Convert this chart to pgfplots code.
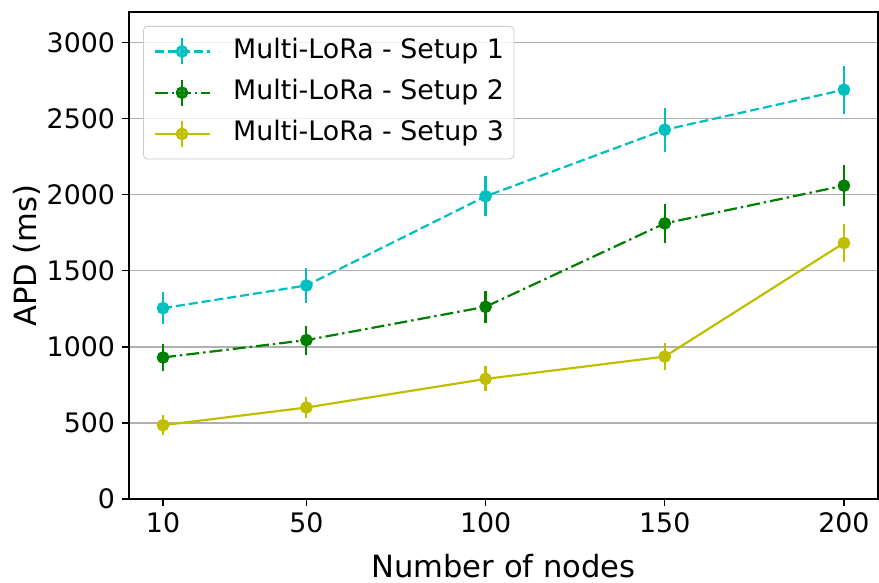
\documentclass[border=0pt]{standalone}
\usepackage{fontspec}
\setmainfont{DejaVu Sans}
\usepackage{pgfplots}
\pgfplotsset{compat=1.18}
\definecolor{mc}{rgb}{0,0.75,0.75}
\definecolor{mg}{rgb}{0,0.5,0}
\definecolor{my}{rgb}{0.75,0.75,0}
\pgfplotstableread{
x y e
10 1254 104
50 1403 112
100 1989 132
150 2426 146
200 2689 156
}\setupA
\pgfplotstableread{
x y e
10 930 89
50 1044 95
100 1263 105
150 1811 126
200 2059 135
}\setupB
\pgfplotstableread{
x y e
10 485 65
50 601 72
100 789 82
150 936 88
200 1682 123
}\setupC
\begin{document}
\begin{tikzpicture}
\path[use as bounding box] (-64.5pt,-42pt) rectangle (375pt,249.5pt);
\begin{axis}[
  at={(0,0)}, anchor=south west,
  scale only axis, width=374.5pt, height=243.5pt,
  xmin=0.5, xmax=209.5, ymin=0, ymax=3200,
  xtick={10,50,100,150,200}, ytick={0,500,...,3000},
  ymajorgrids, grid style={color=black!31, line width=0.7pt},
  tick align=outside, major tick length=3.5pt,
  tick style={black, line width=0.7pt},
  axis line style={line width=0.7pt},
  xtick pos=left, ytick pos=left,
  ticklabel style={font=\fontsize{13.4}{16}\selectfont},
  /pgf/number format/assume math mode=true,
  /pgf/number format/set thousands separator={},
  xlabel={Number of nodes}, ylabel={APD (ms)},
  every axis x label/.style={at={(axis description cs:0.5,-0.1376)}, anchor=center, font=\fontsize{15.3}{18}\selectfont},
  every axis y label/.style={at={(axis description cs:-0.1362,0.5)}, rotate=90, anchor=center, font=\fontsize{15.3}{18}\selectfont},
  legend style={at={(0.0187,0.9713)}, anchor=north west, draw=black!20, rounded corners=2pt,
    fill=white, fill opacity=0.8, text opacity=1, draw opacity=1,
    inner xsep=5pt, inner ysep=5.5pt, column sep=11.3pt, row sep=6.5pt,
    nodes={inner sep=0pt, text height=10pt, text depth=3pt},
    font=\fontsize{13.4}{16}\selectfont},
  legend cell align=left,
  legend image code/.code={
    \draw[#1, mark=none] (0pt,0pt) -- (27.5pt,0pt);
    \draw[#1, solid, mark=none] (13.75pt,-6.5pt) -- (13.75pt,6.5pt);
    \draw[#1, only marks] plot coordinates {(13.75pt,0pt)};
  },
]
\addplot[color=mc, line width=1.1pt, dash pattern=on 4.5pt off 2pt, mark=*, mark size=2.6pt, mark options={solid},
  error bars/.cd, y dir=both, y explicit, error mark=none, error bar style={solid, line width=1.1pt}]
  table[x=x, y=y, y error=e] {\setupA};
\addlegendentry{Multi-LoRa - Setup 1}
\addplot[color=mg, line width=1.1pt, dash pattern=on 6.5pt off 2pt on 1.2pt off 2pt, mark=*, mark size=2.6pt, mark options={solid},
  error bars/.cd, y dir=both, y explicit, error mark=none, error bar style={solid, line width=1.1pt}]
  table[x=x, y=y, y error=e] {\setupB};
\addlegendentry{Multi-LoRa - Setup 2}
\addplot[color=my, line width=1.1pt, solid, mark=*, mark size=2.6pt, mark options={solid},
  error bars/.cd, y dir=both, y explicit, error mark=none, error bar style={solid, line width=1.1pt}]
  table[x=x, y=y, y error=e] {\setupC};
\addlegendentry{Multi-LoRa - Setup 3}
\end{axis}
\end{tikzpicture}
\end{document}
